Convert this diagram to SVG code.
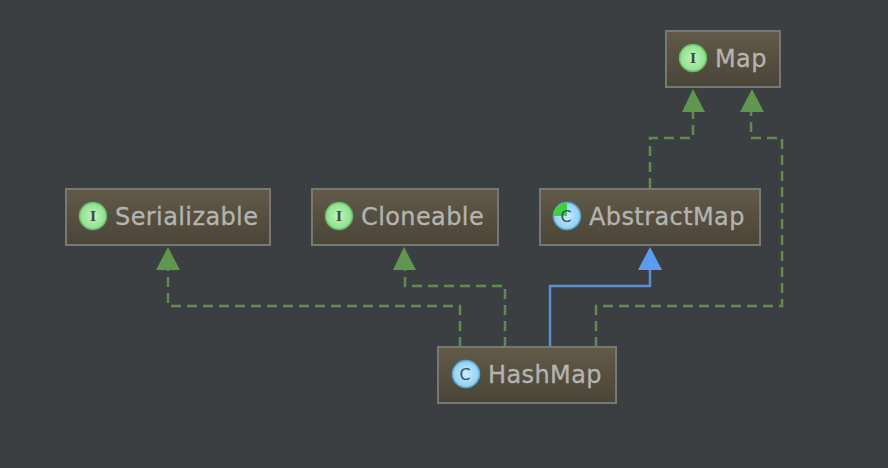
<svg xmlns="http://www.w3.org/2000/svg" width="888" height="468" viewBox="0 0 888 468">
<style>
.box{fill:url(#nodeFill);stroke:#777873;stroke-width:2}
.lbl{font-family:"DejaVu Sans",sans-serif;font-size:24px;letter-spacing:.4px;fill:#b4b4b1;stroke:#b4b4b1;stroke-width:.3}
.ltr{font-family:"DejaVu Serif","Liberation Serif",serif;font-size:13px;font-weight:bold;fill:#3c4a3c;text-anchor:middle}
.cltr{font-family:"DejaVu Sans",sans-serif;font-size:16px;fill:#3a4f60;text-anchor:middle}
.dash{fill:none;stroke:#5f8a54;stroke-width:2.5;stroke-dasharray:10 6}
.solid{fill:none;stroke:#5a8fd0;stroke-width:2.5}
.tg{fill:#5f9650}
.tb{fill:#5a9df0}
.ic{stroke:#69b96c;stroke-width:1.5;fill:url(#iFill)}
.cc{stroke:#5da6d0;stroke-width:1.5;fill:url(#cFill)}
</style>
<defs>
<linearGradient id="nodeFill" x1="0" y1="0" x2="0" y2="1"><stop offset="0" stop-color="#625a49"/><stop offset="1" stop-color="#4a4538"/></linearGradient>
<radialGradient id="iFill" cx="0.5" cy="0.5" r="0.55"><stop offset="0" stop-color="#c0f3bc"/><stop offset="1" stop-color="#86df86"/></radialGradient>
<radialGradient id="cFill" cx="0.5" cy="0.5" r="0.55"><stop offset="0" stop-color="#cdecfb"/><stop offset="1" stop-color="#86ccf2"/></radialGradient>
</defs>
<rect width="888" height="468" fill="#3c3f41"/>
<g id="connectors">
<path class="dash" d="M650 188V138H693V112"/>
<path class="dash" d="M596 347V306H782V138H751V112"/>
<path class="dash" d="M460 347V306H168V270"/>
<path class="dash" d="M505 347V286H405V270"/>
<path class="solid" d="M550 347V286H650V270"/>
<polygon class="tg" points="693,89 705,112 682,112"/>
<polygon class="tg" points="752,89 764,112 740,112"/>
<polygon class="tg" points="168,247 180,270 156,270"/>
<polygon class="tg" points="404,247 416,270 393,270"/>
<polygon class="tb" points="650,247 662,270 638,270"/>
</g>
<g id="map">
<rect class="box" x="666" y="31" width="114" height="56"/>
<circle class="ic" cx="693" cy="58" r="13.5"/>
<text class="ltr" x="693" y="63">I</text>
<text class="lbl" x="715" y="67">Map</text>
</g>
<g id="serializable">
<rect class="box" x="66" y="189" width="204" height="56"/>
<circle class="ic" cx="93" cy="216" r="13.5"/>
<text class="ltr" x="93" y="221">I</text>
<text class="lbl" x="115" y="225">Serializable</text>
</g>
<g id="cloneable">
<rect class="box" x="312" y="189" width="186" height="56"/>
<circle class="ic" cx="339" cy="216" r="13.5"/>
<text class="ltr" x="339" y="221">I</text>
<text class="lbl" x="361" y="225">Cloneable</text>
</g>
<g id="abstractmap">
<rect class="box" x="540" y="189" width="220" height="56"/>
<circle class="cc" cx="567" cy="216" r="13.5"/>
<path d="M567 216V202.5A13.5 13.5 0 0 0 553.5 216Z" fill="#3fcf3f"/>
<text class="cltr" x="566" y="222">C</text>
<text class="lbl" x="589" y="225">AbstractMap</text>
</g>
<g id="hashmap">
<rect class="box" x="438" y="347" width="178" height="56"/>
<circle class="cc" cx="466" cy="374" r="13.5"/>
<text class="cltr" x="465" y="380">C</text>
<text class="lbl" x="488" y="383">HashMap</text>
</g>
</svg>
